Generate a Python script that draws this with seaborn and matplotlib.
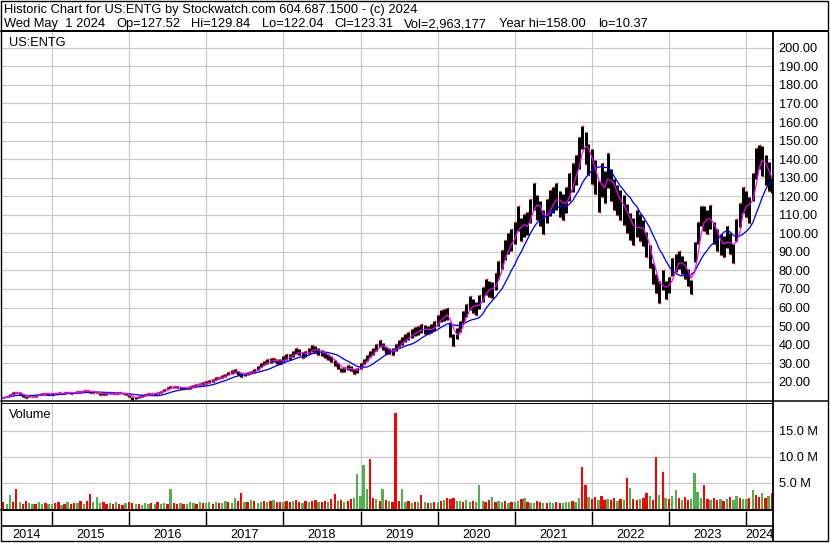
import numpy as np
import pandas as pd
import matplotlib
matplotlib.use("Agg")
import matplotlib.pyplot as plt
import seaborn as sns

# ---------------- data (semi-monthly) ----------------
dates = pd.date_range("2014-05-01", "2024-05-01", freq="SMS")

low = [
    # 2014
    10.8, 11.1, 11.6, 12.3, 13.3, 13.7, 13.0, 11.9, 11.4, 11.5, 11.6, 11.9, 12.6, 13.0, 13.2, 13.1,
    # 2015
    12.9, 13.2, 13.4, 13.3, 13.6, 13.7, 13.5, 13.7, 13.8, 14.1, 14.3, 14.5, 14.1, 14.0, 13.7, 13.1, 12.7, 13.1, 13.5, 13.4, 13.2, 13.5, 13.3, 13.1,
    # 2016
    11.6, 10.4, 10.7, 11.1, 11.8, 12.3, 12.7, 12.8, 13.1, 13.5, 13.8, 14.8, 15.9, 16.6, 16.7, 16.4, 16.2, 16.0, 15.8, 16.3, 17.2, 17.8, 18.0, 18.4,
    # 2017
    18.8, 19.5, 20.1, 20.7, 21.2, 22.0, 22.6, 23.6, 24.4, 24.9, 23.8, 22.7, 22.9, 23.7, 23.9, 24.8, 26.4, 27.7, 28.8, 29.6, 30.2, 30.4, 29.8, 29.6,
    # 2018
    30.4, 31.8, 31.8, 33.1, 34.7, 34.2, 32.7, 33.3, 34.7, 36.1, 35.3, 34.4, 33.7, 32.8, 31.8, 30.4, 28.5, 27.1, 25.0, 25.5, 26.3, 25.6, 24.1, 24.7,
    # 2019
    27.1, 29.3, 31.4, 33.3, 34.4, 36.6, 38.7, 37.1, 35.2, 34.7, 34.4, 36.6, 38.5, 39.9, 41.2, 42.3, 43.7, 44.7, 45.4, 46.4, 45.6, 45.5, 46.1, 47.5,
    # 2020
    50.0, 52.2, 52.6, 53.0, 44.0, 39.0, 43.0, 46.6, 51.7, 55.1, 58.6, 57.3, 56.0, 59.2, 63.0, 66.9, 65.8, 65.2, 69.6, 75.4, 80.8, 85.5, 88.8, 90.6,
    # 2021
    94.0, 101.5, 95.9, 97.8, 99.1, 105.3, 112.5, 107.2, 104.2, 99.8, 105.3, 109.2, 110.9, 112.5, 109.0, 107.4, 110.9, 117.6, 122.2, 126.1, 134.5, 145.7, 137.2, 131.6,
    # 2022
    126.5, 121.4, 111.6, 119.7, 116.3, 124.6, 117.2, 112.5, 109.7, 107.0, 104.7, 100.4, 96.3, 93.9, 98.0, 95.8, 93.0, 87.4, 81.3, 72.9, 67.9, 62.5, 69.6, 64.5,
    # 2023
    67.7, 77.1, 79.0, 80.5, 78.0, 75.4, 71.4, 67.5, 84.6, 94.0, 104.2, 101.5, 99.6, 102.5, 94.0, 90.6, 88.4, 87.2, 92.3, 88.9, 84.0, 95.7, 103.4, 110.9,
    # 2024
    109.0, 105.8, 117.6, 129.4, 134.5, 131.1, 126.0, 122.7, 121.5,
]

high = [
    # 2014
    11.6, 11.9, 12.4, 13.3, 14.3, 14.7, 14.2, 12.9, 12.2, 12.3, 12.4, 12.7, 13.4, 13.8, 14.0, 13.9,
    # 2015
    13.7, 14.0, 14.2, 14.1, 14.4, 14.7, 14.3, 14.5, 14.8, 15.1, 15.3, 15.5, 15.1, 15.0, 14.7, 14.1, 13.7, 13.9, 14.3, 14.2, 14.0, 14.3, 14.1, 13.9,
    # 2016
    12.8, 11.6, 11.7, 12.1, 12.8, 13.3, 13.7, 13.8, 14.1, 14.5, 14.8, 16.0, 17.1, 17.8, 17.9, 17.6, 17.4, 17.2, 17.0, 17.5, 18.4, 19.0, 19.2, 19.6,
    # 2017
    20.2, 20.9, 21.5, 22.3, 22.8, 23.6, 24.4, 25.4, 26.2, 26.9, 25.8, 24.5, 24.7, 25.5, 25.9, 26.8, 28.6, 29.9, 31.2, 32.0, 32.8, 33.0, 32.2, 32.0,
    # 2018
    33.6, 35.2, 35.2, 36.5, 38.3, 37.8, 36.1, 36.8, 38.3, 39.9, 39.1, 38.0, 37.3, 36.2, 35.2, 33.6, 31.5, 29.9, 27.6, 28.1, 29.1, 28.4, 26.7, 27.3,
    # 2019
    29.9, 32.3, 34.6, 36.7, 38.0, 40.4, 42.7, 40.9, 38.8, 38.3, 38.0, 40.4, 42.5, 44.1, 45.6, 46.7, 48.3, 49.3, 50.2, 51.2, 50.4, 50.3, 50.9, 52.5,
    # 2020
    56.0, 58.8, 59.4, 60.0, 52.0, 45.5, 49.0, 52.6, 58.3, 62.1, 66.0, 64.7, 63.2, 66.8, 71.0, 75.5, 74.2, 73.6, 78.4, 85.0, 91.2, 96.5, 100.2, 102.2,
    # 2021
    106.0, 114.5, 108.1, 110.2, 111.7, 118.7, 126.9, 120.8, 117.4, 112.6, 118.7, 123.2, 125.1, 126.9, 123.0, 121.2, 125.1, 132.6, 137.8, 142.1, 151.7, 158.0, 154.8, 148.4,
    # 2022
    145.5, 139.6, 128.4, 137.7, 133.8, 143.4, 134.8, 129.5, 126.3, 123.1, 120.5, 115.6, 110.9, 108.1, 112.8, 110.2, 107.0, 100.6, 93.5, 83.9, 78.1, 74.3, 80.0, 74.3,
    # 2023
    76.3, 86.9, 89.0, 90.7, 88.0, 85.0, 80.6, 74.9, 95.4, 106.0, 114.5, 114.5, 112.4, 115.5, 106.0, 102.2, 99.6, 98.4, 104.1, 100.3, 94.4, 107.9, 116.6, 125.1,
    # 2024
    123.0, 119.4, 132.6, 146.0, 147.5, 147.0, 142.0, 138.3, 129.8,
]

volume_m = [
    # 2014
    1.0, 1.2, 0.9, 2.6, 1.3, 3.7, 1.2, 0.8, 1.4, 1.0, 0.9, 0.8, 1.2, 0.9, 1.1, 0.8,
    # 2015
    0.8, 1.0, 1.2, 0.7, 0.9, 1.3, 0.8, 1.1, 1.0, 1.4, 0.9, 1.5, 2.8, 1.2, 2.2, 1.0, 1.3, 0.9, 1.1, 0.8, 1.2, 0.9, 0.7, 1.0,
    # 2016
    1.2, 1.0, 0.9, 0.8, 0.7, 1.1, 0.8, 1.0, 0.9, 1.2, 0.8, 1.0, 0.9, 3.7, 1.0, 0.8, 1.1, 0.9, 0.8, 1.2, 1.0, 0.9, 1.3, 1.1,
    # 2017
    1.0, 1.2, 0.9, 1.3, 1.1, 1.0, 1.4, 1.2, 1.0, 2.0, 1.5, 3.0, 1.3, 1.2, 1.6, 1.4, 1.1, 1.3, 1.5, 1.2, 1.4, 1.6, 1.3, 1.2,
    # 2018
    1.3, 1.5, 1.2, 1.4, 1.6, 1.3, 1.1, 1.5, 1.2, 1.4, 1.6, 1.2, 1.3, 1.5, 1.2, 1.9, 2.7, 1.4, 1.6, 1.3, 1.5, 1.8, 2.0, 6.6,
    # 2019
    2.5, 8.3, 3.7, 9.5, 2.0, 1.8, 1.5, 3.7, 1.6, 1.4, 1.3, 18.4, 1.5, 3.7, 1.2, 1.4, 1.1, 1.3, 1.2, 2.6, 1.3, 1.1, 1.0, 1.2,
    # 2020
    1.2, 1.4, 1.6, 2.1, 1.8, 2.0, 1.5, 1.4, 1.3, 1.6, 1.2, 1.5, 1.3, 4.5, 1.4, 1.2, 1.6, 2.2, 1.3, 1.5, 1.2, 1.4, 1.1, 1.3,
    # 2021
    1.2, 1.5, 1.9, 2.1, 1.3, 1.1, 1.0, 1.4, 1.2, 1.0, 1.1, 1.3, 1.0, 1.2, 1.1, 1.0, 1.3, 1.2, 1.4, 1.3, 2.0, 8.0, 4.5, 2.2,
    # 2022
    1.8, 2.2, 1.6, 2.4, 1.7, 1.9, 1.6, 2.0, 1.5, 1.8, 1.7, 5.8, 3.9, 1.9, 1.6, 1.8, 2.0, 2.9, 2.4, 1.7, 9.9, 2.6, 7.1, 2.0,
    # 2023
    1.8, 2.5, 3.5, 2.0, 1.7, 2.2, 1.6, 1.9, 6.9, 3.2, 2.1, 4.5, 1.8, 1.6, 2.0, 1.7, 1.9, 1.5, 1.8, 2.3, 1.7, 2.5, 2.0, 1.8,
    # 2024
    1.9, 2.1, 3.5, 2.6, 2.3, 2.9, 2.0, 2.4, 2.9,
]

# volume bar colour per bar: g = up day (green), r = down day (red)
volume_dir = (
    "rrggrrgrrggrggrg"            # 2014
    "grrgrgrrgrgrrgggrrgrgrrg"    # 2015
    "rrgrgggrgrggrgrrgrgggrgr"    # 2016
    "ggrgrggrggrrgrgrggrgrgrr"    # 2017
    "grrgrrgrgrrgrrgrrgrgrrgg"    # 2018
    "gggrrgrgrgrrrggrgrgrgrgr"    # 2019
    "grgrrrggrggrgggrrgrggrgr"    # 2020
    "ggrgrggrrgrggrrgggrggrrg"    # 2021
    "rrgrrgrrgrgrgrrgrrgrrgrg"    # 2022
    "rggrgrrggggrrgrrgrgrggrg"    # 2023
    "grgrrgrgr"                   # 2024
)

price_ticks = list(range(20, 201, 10))
vol_ticks = [5, 10, 15]
years = list(range(2014, 2025))

header1 = "Historic Chart for US:ENTG by Stockwatch.com 604.687.1500 - (c) 2024"
header2_fields = ["Wed May  1 2024", "Op=127.52", "Hi=129.84", "Lo=122.04",
                  "Cl=123.31", "Vol=2,963,177", "Year hi=158.00", "lo=10.37"]
symbol = "US:ENTG"

assert len(low) == len(high) == len(volume_m) == len(volume_dir) == len(dates)

# ---------------- derived frame ----------------
def yearfrac(d):
    return d.year + (d.dayofyear - 1) / (366 if d.is_leap_year else 365)

df = pd.DataFrame({"t": [yearfrac(d) for d in dates], "low": low,
                   "high": high, "vol": volume_m, "dir": list(volume_dir)})
df["mid"] = (df["low"] + df["high"]) / 2
df["ma_fast"] = df["mid"].rolling(3, min_periods=1).mean()
df["ma_slow"] = df["mid"].rolling(10, min_periods=1).mean()
up = df["mid"].diff().fillna(0) >= 0
df["close_mark"] = np.where(up, df["high"], df["low"])

# ---------------- figure ----------------
sns.set_style("white")
plt.rcParams["font.family"] = ["Liberation Sans", "DejaVu Sans"]

W, H = 830, 543
PX = 0.72
fig = plt.figure(figsize=(W / 100, H / 100), dpi=100)
fig.patch.set_facecolor("white")


def box(x0, y0, x1, y1):
    return [x0 / W, 1 - y1 / H, (x1 - x0) / W, (y1 - y0) / H]


XL = (2014.345, 2024.345)
GRID = "#c8c8c8"
LBL = 9.2
HDR = 9.3

# price panel
axp = fig.add_axes(box(1.5, 31.5, 773, 401))
axp.set_xlim(XL)
axp.set_ylim(9.6, 208.8)
axp.set_xticks(years[1:])
axp.set_yticks(price_ticks)
axp.set_yticklabels([f"{v:.2f}" for v in price_ticks])
axp.yaxis.tick_right()
axp.tick_params(axis="x", length=0, labelbottom=False)
axp.tick_params(axis="y", length=0, pad=4.0, labelsize=LBL, colors="black")
axp.grid(True, color=GRID, lw=1.2 * PX)
axp.set_axisbelow(True)
for s in axp.spines.values():
    s.set_visible(False)

axp.vlines(df["t"], df["low"], df["high"], color="black", lw=3.0 * PX, zorder=2)
axp.plot(df["t"] + 0.012, df["close_mark"], ls="none", marker="s",
         ms=1.6 * PX, color="#ff0000", mec="none", zorder=3)
sns.lineplot(data=df, x="t", y="ma_slow", ax=axp, color="#0000ff",
             lw=1.3 * PX, estimator=None, sort=False, zorder=4)
sns.lineplot(data=df, x="t", y="ma_fast", ax=axp, color="#ff00ff",
             lw=1.2 * PX, estimator=None, sort=False, zorder=5)
axp.set_xlabel("")
axp.set_ylabel("")

# volume panel
axv = fig.add_axes(box(1.5, 403, 773, 508.5))
axv.set_xlim(XL)
axv.set_ylim(0, 105.5 / 5.2)
axv.set_xticks(years[1:])
axv.set_yticks(vol_ticks)
axv.set_yticklabels([f"{v:.1f} M" for v in vol_ticks])
axv.yaxis.tick_right()
axv.tick_params(axis="x", length=0, labelbottom=False)
axv.tick_params(axis="y", length=0, pad=4.5, labelsize=LBL, colors="black")
axv.grid(True, color=GRID, lw=1.2 * PX)
axv.set_axisbelow(True)
for s in axv.spines.values():
    s.set_visible(False)
vcolors = df["dir"].map({"g": "#4cb34c", "r": "#ff0000"})
axv.bar(df["t"], df["vol"], width=2.3 / 77.13, color=vcolors, lw=0, zorder=2)

# year axis
axy = fig.add_axes(box(1.5, 510.5, 773, 540.5))
axy.set_xlim(XL)
axy.set_ylim(0, 1)
axy.axis("off")
axy.vlines(years[1:], 0.467, 1, color="black", lw=1.4 * PX)
axy.axhline(0.467, color="black", lw=1.6 * PX)
for yr in years:
    a, b = max(yr, XL[0]), min(yr + 1, XL[1])
    axy.text((a + b) / 2, 0.2, str(yr), ha="center", va="center",
             fontsize=LBL, color="black")

# overlay frame and texts (pixel coordinates)
ov = fig.add_axes([0, 0, 1, 1], zorder=10)
ov.set_xlim(0, W)
ov.set_ylim(H, 0)
ov.axis("off")
ov.patch.set_alpha(0)
k = "black"
ov.plot([0.7, 827.8, 827.8, 0.7, 0.7], [0.7, 0.7, 540.7, 540.7, 0.7],
        color=k, lw=1.4 * PX, solid_joinstyle="miter")
ov.plot([0.7, 827.8], [30.5, 30.5], color=k, lw=2.0 * PX)
ov.plot([773.3, 773.3], [30.5, 540.7], color=k, lw=1.8 * PX)
ov.plot([0.7, 827.8], [400.8, 400.8], color=k, lw=1.5 * PX)
ov.plot([0.7, 773.3], [402.8, 402.8], color=k, lw=1.0 * PX)
ov.plot([0.7, 773.3], [509.6, 509.6], color=k, lw=2.0 * PX)

ov.text(4, 13.3, header1, fontsize=HDR, va="baseline", ha="left", color=k)
field_x = [4, 116, 191, 261.5, 334, 404, 499, 598]
for x, s in zip(field_x, header2_fields):
    ov.text(x, 27.4, s, fontsize=HDR, va="baseline", ha="left", color=k)
ov.text(9, 45.7, symbol, fontsize=LBL, va="baseline", ha="left", color=k)
ov.text(9, 417.7, "Volume", fontsize=LBL, va="baseline", ha="left", color=k)

fig.savefig("out.png", dpi=100)
